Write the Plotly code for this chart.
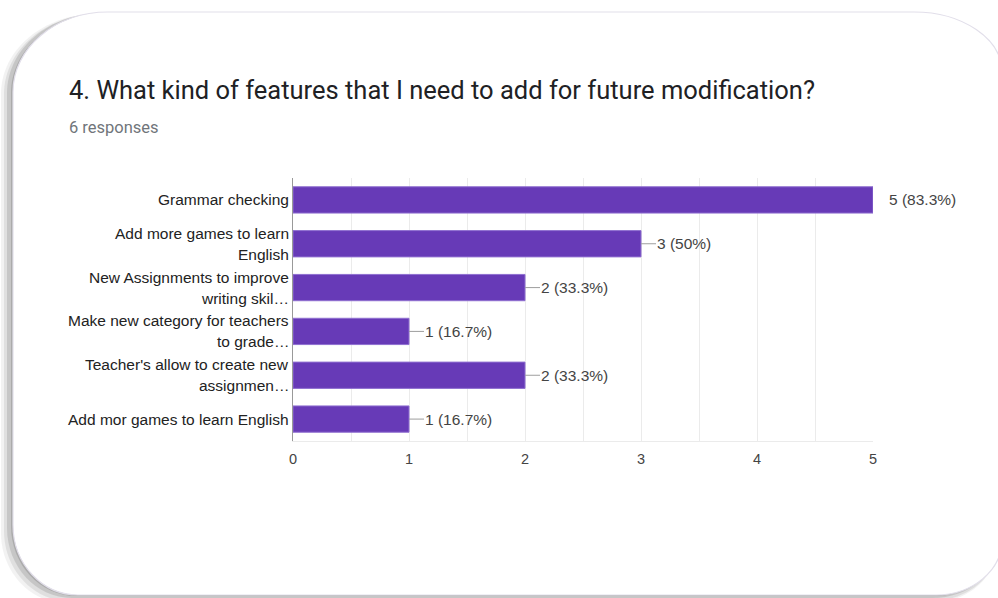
import plotly.graph_objects as go

# Survey question and results
question = "4. What kind of features that I need to add for future modification?"
responses_text = "6 responses"
total_responses = 6

options = [
    "Grammar checking",
    "Add more games to learn<br>English",
    "New Assignments to improve<br>writing skil…",
    "Make new category for teachers<br>to grade…",
    "Teacher's allow to create new<br>assignmen…",
    "Add mor games to learn English",
]
counts = [5, 3, 2, 1, 2, 1]
x_ticks = [0, 1, 2, 3, 4, 5]

BAR = "#673ab7"
W, H = 998, 598
ML, MR, MT, MB = 293, 125, 178, 157
PW, PH = W - ML - MR, H - MT - MB
LABEL_FONT = "Liberation Sans, Arial"


def px(x, y):
    """Pixel position on the page -> paper coordinates."""
    return (x - ML) / PW, (H - MB - y) / PH


def rounded_path(l, t, r, b, tl, tr, br, bl):
    """Closed path of a rectangle with elliptical corners (rx, ry) each."""
    k = 0.5523

    def P(x, y):
        xp, yp = px(x, y)
        return f"{xp:.5f},{yp:.5f}"

    s = f"M {P(l + tl[0], t)} L {P(r - tr[0], t)} "
    s += f"C {P(r - tr[0] + k * tr[0], t)} {P(r, t + tr[1] - k * tr[1])} {P(r, t + tr[1])} "
    s += f"L {P(r, b - br[1])} "
    s += f"C {P(r, b - br[1] + k * br[1])} {P(r - br[0] + k * br[0], b)} {P(r - br[0], b)} "
    s += f"L {P(l + bl[0], b)} "
    s += f"C {P(l + bl[0] - k * bl[0], b)} {P(l, b - bl[1] + k * bl[1])} {P(l, b - bl[1])} "
    s += f"L {P(l, t + tl[1])} "
    s += f"C {P(l, t + tl[1] - k * tl[1])} {P(l + tl[0] - k * tl[0], t)} {P(l + tl[0], t)} Z"
    return s


def pct_label(c):
    p = f"{c / total_responses * 100:.1f}"
    p = p.rstrip("0").rstrip(".")
    return f"{c} ({p}%)"


fig = go.Figure()
fig.add_trace(go.Bar(
    x=counts,
    y=options,
    orientation="h",
    marker=dict(color=BAR, line=dict(color="#8f6fd0", width=1)),
    width=0.6,
    hoverinfo="skip",
))

CARD = (13, 12, 1002, 595)
RADII = ((95, 80), (88, 60), (66, 55), (65, 70))

shapes = []
# card shadow layers, offset down-left
for dx, dy, grow, op in [(-9, 5, 3, 0.08), (-7, 4, 2, 0.12), (-5, 2, 1, 0.18), (-2, 1, 0, 0.25)]:
    l, t, r, b = CARD
    shapes.append(dict(
        type="path", xref="paper", yref="paper", layer="below",
        path=rounded_path(l + dx - grow, t + dy - grow, r + dx + grow, b + dy + grow, *RADII),
        fillcolor=f"rgba(90,90,90,{op})", line=dict(width=0),
    ))
# the card itself
shapes.append(dict(
    type="path", xref="paper", yref="paper", layer="below",
    path=rounded_path(*CARD, *RADII),
    fillcolor="#ffffff", line=dict(color="#e2dfea", width=1.2),
))

annotations = []
# title and response count
tx, ty = px(67, 90)
annotations.append(dict(
    xref="paper", yref="paper", x=tx, y=ty, xanchor="left", yanchor="middle",
    text=question, showarrow=False,
    font=dict(family="Roboto", size=25.5, color="#202124"),
))
rx_, ry_ = px(67, 127)
annotations.append(dict(
    xref="paper", yref="paper", x=rx_, y=ry_, xanchor="left", yanchor="middle",
    text=responses_text, showarrow=False,
    font=dict(family="Roboto", size=16.5, color="#70757a"),
))

# category labels, one annotation per line
for opt in options:
    lines = opt.split("<br>")
    n = len(lines)
    for i, line in enumerate(lines):
        annotations.append(dict(
            xref="paper", yref="y", x=0, y=opt, xanchor="right", yanchor="middle",
            xshift=-2, yshift=(n - 1) * 10.5 - i * 21,
            text=line, showarrow=False,
            font=dict(family=LABEL_FONT, size=15.5, color="#222222"),
        ))

# value labels with short leader lines
xmax = max(x_ticks)
for opt, c in zip(options, counts):
    if c >= xmax:
        annotations.append(dict(
            xref="x", yref="y", x=c, y=opt, xanchor="left", yanchor="middle",
            xshift=14, text=pct_label(c), showarrow=False,
            font=dict(family=LABEL_FONT, size=15.5, color="#444444"),
        ))
    else:
        annotations.append(dict(
            xref="x", yref="y", x=c, y=opt, xanchor="left", yanchor="middle",
            ax=15, ay=0, axref="pixel", ayref="pixel",
            text=pct_label(c), showarrow=True, arrowhead=0, arrowwidth=1,
            arrowcolor="#9e9e9e", standoff=0, borderpad=0,
            font=dict(family=LABEL_FONT, size=15.5, color="#444444"),
        ))

fig.update_layout(
    width=W, height=H,
    margin=dict(l=ML, r=MR, t=MT, b=MB, pad=0),
    paper_bgcolor="#ffffff",
    plot_bgcolor="rgba(0,0,0,0)",
    showlegend=False,
    bargap=0.4,
    shapes=shapes,
    annotations=annotations,
    xaxis=dict(
        range=[0, xmax], tickvals=x_ticks, ticktext=[str(v) for v in x_ticks],
        showgrid=True, gridcolor="#ebebeb", gridwidth=1,
        minor=dict(dtick=0.5, showgrid=True, gridcolor="#ebebeb", gridwidth=1),
        zeroline=False, showline=True, linecolor="#ebebeb", linewidth=1,
        ticks="", ticklen=0, ticklabelstandoff=5,
        tickfont=dict(family=LABEL_FONT, size=14.5, color="#444444"),
        fixedrange=True,
    ),
    yaxis=dict(
        autorange="reversed", showticklabels=False, showgrid=False,
        zeroline=False, showline=True, linecolor="#999999", linewidth=1,
        ticks="", fixedrange=True,
    ),
)

fig.write_html("out.html", config={"displayModeBar": False})
